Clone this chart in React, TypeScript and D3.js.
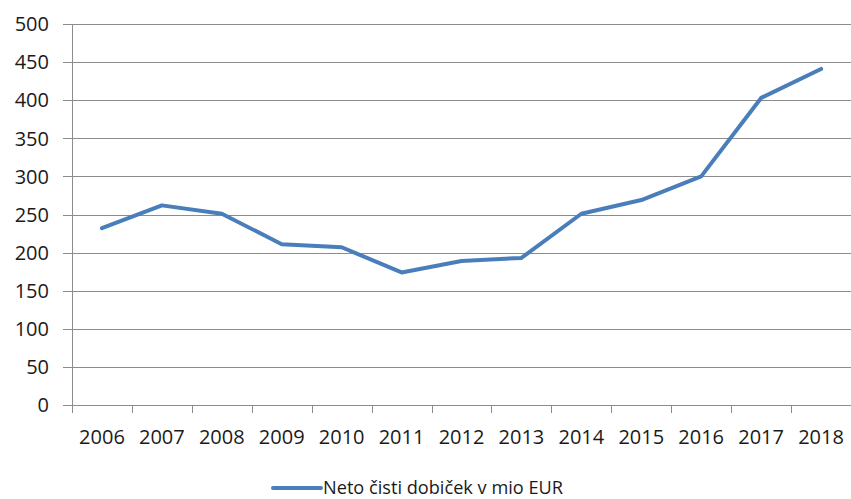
import React from "react";
import * as d3 from "d3";

const years = ["2006","2007","2008","2009","2010","2011","2012","2013","2014","2015","2016","2017","2018"];
const profit = [232, 262, 251, 211, 207, 174, 189, 193, 251, 269, 300, 403, 441];
const yTicks = [0, 50, 100, 150, 200, 250, 300, 350, 400, 450, 500];
const seriesName = "Neto čisti dobiček v mio EUR";

const W = 851, H = 499;
const left = 72, right = 851, top = 24, bottom = 405;
const FONT = "'Open Sans', 'Noto Sans', sans-serif";
const BLUE = "#4A7EBB";
const GRID = "#8c8c8c";

export default function App() {
  const x = d3.scaleBand<string>().domain(years).range([left, right]).padding(0);
  const y = d3.scaleLinear().domain([0, 500]).range([bottom, top]);
  const line = d3.line<number>()
    .x((_, i) => (x(years[i]) as number) + x.bandwidth() / 2)
    .y((d) => y(d));
  const bounds = years.map((yr) => x(yr) as number).concat([right - 0.5]);

  return (
    <svg width={W} height={H} style={{ position: "absolute", left: 0, top: 0, background: "#fff" }}>
      {yTicks.map((t) => (
        <g key={t}>
          <line x1={63} x2={right} y1={Math.round(y(t)) + 0.5} y2={Math.round(y(t)) + 0.5} stroke={GRID} strokeWidth={1} />
          <text x={49} y={y(t)} dy="0.36em" textAnchor="end" fontFamily={FONT} fontSize={20} fill="#1a1a1a">{t}</text>
        </g>
      ))}
      <line x1={left + 0.5} x2={left + 0.5} y1={top} y2={bottom} stroke={GRID} strokeWidth={1} />
      {bounds.map((b, i) => (
        <line key={i} x1={Math.round(b) + 0.5} x2={Math.round(b) + 0.5} y1={bottom} y2={bottom + 8} stroke={GRID} strokeWidth={1} />
      ))}
      {years.map((yr) => (
        <text key={yr} x={(x(yr) as number) + x.bandwidth() / 2} y={437} dy="0.36em" textAnchor="middle" fontFamily={FONT} fontSize={20} fill="#1a1a1a">{yr}</text>
      ))}
      <path d={line(profit) || ""} fill="none" stroke={BLUE} strokeWidth={4} strokeLinejoin="round" strokeLinecap="round" />
      <line x1={273} x2={321} y1={488} y2={488} stroke={BLUE} strokeWidth={4} strokeLinecap="round" />
      <text x={323} y={487} dy="0.36em" fontFamily={FONT} fontSize={19} textLength={240} lengthAdjust="spacingAndGlyphs" fill="#1a1a1a">{seriesName}</text>
    </svg>
  );
}
